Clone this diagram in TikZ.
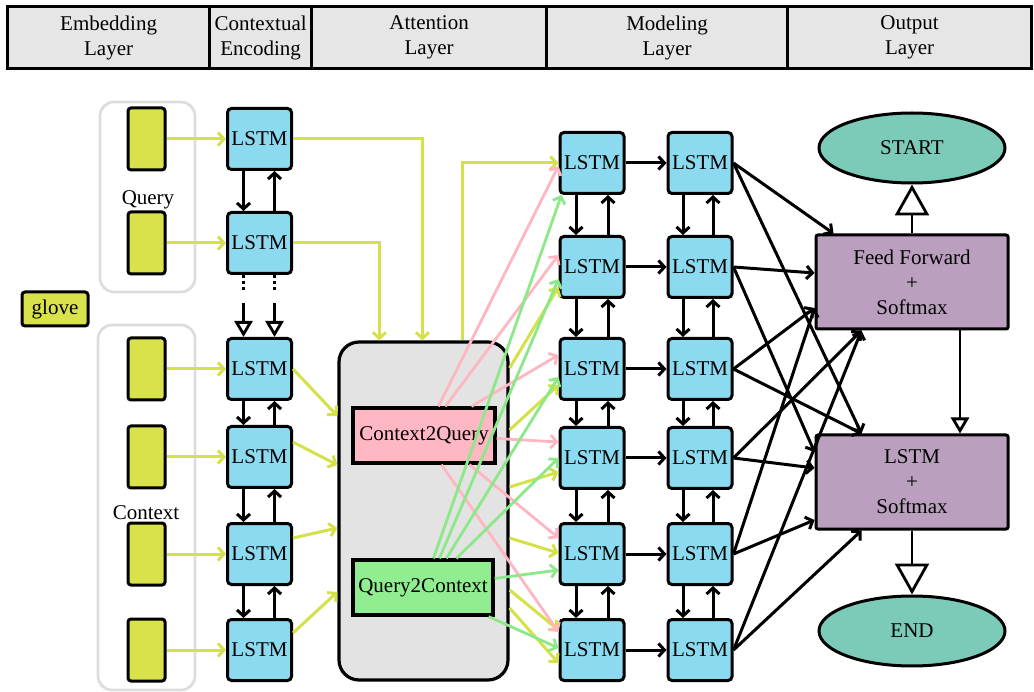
\documentclass[tikz,border=0pt]{standalone}
\usepackage{fontspec}
\setmainfont{Liberation Serif}
\usetikzlibrary{arrows.meta,shapes.geometric,calc}
\definecolor{hdrgray}{RGB}{230,230,230}
\definecolor{embyel}{RGB}{217,226,74}
\definecolor{lstmblue}{RGB}{140,218,240}
\definecolor{grpgray}{RGB}{221,221,221}
\definecolor{attgray}{RGB}{227,227,227}
\definecolor{cqpink}{RGB}{255,183,195}
\definecolor{qcgreen}{RGB}{144,238,144}
\definecolor{outteal}{RGB}{124,203,185}
\definecolor{outpurple}{RGB}{186,160,190}
\definecolor{flowyel}{RGB}{212,225,72}
\definecolor{flowpink}{RGB}{255,182,193}
\definecolor{flowgreen}{RGB}{140,232,136}
\begin{document}
\begin{tikzpicture}[x=1pt,y=-1pt,
  font=\fontsize{21}{25}\selectfont,
  hdr/.style={draw,line width=3.2pt,fill=hdrgray,minimum height=62,align=center,inner sep=0pt,anchor=north west},
  emb/.style={draw,line width=3pt,fill=embyel,rounded corners=3pt,minimum width=37,minimum height=62,inner sep=0pt},
  grp/.style={draw=grpgray,line width=2.8pt,rounded corners=14pt,inner sep=0pt},
  lstm/.style={draw,line width=3pt,fill=lstmblue,rounded corners=4pt,minimum width=64,minimum height=61,inner sep=0pt},
  attbox/.style={draw,line width=3.2pt,fill=attgray,rounded corners=20pt,minimum width=169,minimum height=338,inner sep=0pt},
  cqbox/.style={draw,line width=3.2pt,fill=cqpink,minimum width=142,minimum height=55,inner sep=0pt},
  qcbox/.style={draw,line width=3.2pt,fill=qcgreen,minimum width=140,minimum height=55,inner sep=0pt},
  outbox/.style={draw,line width=3pt,fill=outpurple,rounded corners=2pt,minimum width=192,minimum height=94,align=center,inner sep=0pt},
  endpt/.style={draw,line width=3pt,fill=outteal,ellipse,minimum width=186,minimum height=70,inner sep=0pt},
  blk/.style={line width=3pt,-{Straight Barb[length=6pt,width=13pt]}},
  yel/.style={draw=flowyel,line width=3pt,-{Straight Barb[length=6pt,width=13pt]}},
  pnk/.style={draw=flowpink,line width=2.8pt,-{Straight Barb[length=6pt,width=13pt]}},
  grn/.style={draw=flowgreen,line width=2.8pt,-{Straight Barb[length=6pt,width=13pt]}},
  tri/.style={line width=2.8pt,-{Triangle[open,fill=white,length=16pt,width=18pt]}},
  bigtri/.style={line width=2.8pt,-{Triangle[open,fill=white,length=31pt,width=34pt]}},
  dots/.style={line width=2.8pt,dash pattern=on 3pt off 3pt}]
\useasboundingbox (0,0) rectangle (1034,692);

% header row
\node[hdr,minimum width=202] (h1) at (6,5) {Embedding\\Layer};
\node[hdr,minimum width=102] (h2) at (208,5) {Contextual\\Encoding};
\node[hdr,minimum width=235] (h3) at (310,5) {Attention\\Layer};
\node[hdr,minimum width=241] (h4) at (545,5) {Modeling\\Layer};
\node[hdr,minimum width=244] (h5) at (786,5) {Output\\Layer};

% embedding groups
\node[grp,minimum width=95,minimum height=190] (qg) at (147.5,197) {};
\node[grp,minimum width=97,minimum height=365] (cg) at (146.5,507.5) {};
\node (qlab) at (148,200) {Query};
\node (clab) at (146,513) {Context};
\node[emb,minimum width=66,minimum height=34] (glove) at (55,309) {glove};
\foreach \n/\y in {q1/139,q2/243,c1/369,c2/457,c3/554,c4/650}
  \node[emb] (\n) at (146.5,\y) {};

% contextual encoding LSTMs
\foreach \n/\y in {e1/139,e2/243,e3/369,e4/457,e5/554,e6/650}
  \node[lstm] (\n) at (259.5,\y) {LSTM};
\foreach \a/\b in {q1/e1,q2/e2,c1/e3,c2/e4,c3/e5,c4/e6}
  \draw[yel] (\a.east) -- (\b.west);
\foreach \a/\b in {e1/e2,e3/e4,e4/e5,e5/e6}{
  \draw[blk] ([xshift=-16pt]\a.south) -- ([xshift=-16pt]\b.north);
  \draw[blk] ([xshift=15pt]\b.north) -- ([xshift=15pt]\a.south);
}
\coordinate (dl) at ($(e2.south)+(-16,15)$);
\coordinate (dr) at ($(e2.south)+(15,15)$);
\coordinate (tl) at ($(e3.north)+(-16,-34)$);
\coordinate (tr) at ($(e3.north)+(15,-34)$);
\draw[dots] ([xshift=-16pt]e2.south) -- (dl);
\draw[dots] ([xshift=15pt]e2.south) -- (dr);
\draw[tri] (tl) -- ([xshift=-16pt]e3.north);
\draw[tri] (tr) -- ([xshift=15pt]e3.north);

% attention layer
\node[attbox] (att) at (423.5,511) {};
\node[cqbox] (cq) at (424,435.5) {Context2Query};
\node[qcbox] (qc) at (423,587.5) {Query2Context};
\draw[yel] (e1.east) -| ($(att.north west)+(85,0)$);
\draw[yel] (e2.east) -| ($(att.north west)+(42,0)$);
\draw[yel] (e3.east) -- ($(att.west)+(0,-95)$);
\draw[yel] ($(e4.east)+(0,-15)$) -- ($(att.west)+(0,-46)$);
\draw[yel] ($(e5.east)+(0,-16)$) -- ($(att.west)+(0,17)$);
\draw[yel] ($(e6.east)+(0,-17)$) -- ($(att.west)+(0,81)$);

% modeling layer LSTMs
\foreach \i/\y in {1/163,2/267,3/369,4/458,5/554,6/650}{
  \node[lstm] (ma\i) at (592,\y) {LSTM};
  \node[lstm] (mb\i) at (700,\y) {LSTM};
  \draw[blk] (ma\i.east) -- (mb\i.west);
}
\foreach \a/\b in {1/2,2/3,3/4,4/5,5/6}{
  \draw[blk] ([xshift=-16pt]ma\a.south) -- ([xshift=-16pt]ma\b.north);
  \draw[blk] ([xshift=16pt]ma\b.north) -- ([xshift=16pt]ma\a.south);
  \draw[blk] ([xshift=-17pt]mb\a.south) -- ([xshift=-17pt]mb\b.north);
  \draw[blk] ([xshift=13pt]mb\b.north) -- ([xshift=13pt]mb\a.south);
}

% attention outputs into the modeling layer
\draw[yel] ($(att.north west)+(125,0)$) |- (ma1.west);
\draw[yel] ($(att.east)+(0,-143)$) -- ($(ma2.west)+(0,20)$);
\draw[yel] ($(att.east)+(0,-81)$) -- ($(ma3.west)+(0,16)$);
\draw[yel] ($(att.east)+(0,-24)$) -- ($(ma4.west)+(0,14)$);
\draw[yel] ($(att.east)+(0,27)$) -- ($(ma5.west)+(0,-1)$);
\draw[yel] ($(att.east)+(0,79)$) -- ($(ma6.west)+(0,-20)$);
\draw[yel] ($(att.east)+(0,97)$) -- ($(ma6.west)+(0,13)$);

\draw[pnk] ($(cq.north west)+(87,0)$) -- ($(ma1.west)+(0,3)$);
\draw[pnk] ($(cq.north west)+(94,0)$) -- ($(ma2.west)+(0,-12)$);
\draw[pnk] ($(cq.north west)+(120,0)$) -- ($(ma3.west)+(0,-14)$);
\draw[pnk] ($(cq.east)+(0,3)$) -- ($(ma4.west)+(0,-16)$);
\draw[pnk] ($(cq.south west)+(118,0)$) -- ($(ma5.west)+(0,-16)$);
\draw[pnk] ($(cq.south west)+(90,0)$) -- ($(ma6.west)+(0,-18)$);

\draw[grn] ($(qc.north west)+(82,0)$) -- ($(ma1.south west)+(3,0)$);
\draw[grn] ($(qc.north west)+(88,0)$) -- ($(ma2.west)+(0,12)$);
\draw[grn] ($(qc.north west)+(95,0)$) -- ($(ma3.west)+(0,8)$);
\draw[grn] ($(qc.north west)+(105,0)$) -- (ma4.west);
\draw[grn] ($(qc.east)+(0,-9)$) -- ($(ma5.west)+(0,16)$);
\draw[grn] ($(qc.south east)+(-6,0)$) -- ($(ma6.west)+(0,-2)$);

% output layer
\node[endpt] (start) at (912,148) {START};
\node[outbox] (ff) at (912,282) {Feed Forward\\+\\Softmax};
\node[outbox] (lo) at (912,482) {LSTM\\+\\Softmax};
\node[endpt] (end) at (912,631) {END};
\draw[bigtri] (ff.north) -- (start.south);
\draw[tri] ($(ff.south)+(48,0)$) -- ($(lo.north)+(48,0)$);
\draw[bigtri] (lo.south) -- (end.north);

\draw[blk] (mb1.east) -- ($(ff.north west)+(19,0)$);
\draw[blk] (mb1.east) -- ($(lo.north west)+(47,0)$);
\draw[blk] (mb2.east) -- ($(ff.west)+(0,-9)$);
\draw[blk] (mb2.east) -- ($(lo.west)+(0,-30)$);
\draw[blk] (mb3.east) -- ($(ff.west)+(0,26)$);
\draw[blk] (mb3.east) -- ($(lo.north west)+(47,0)$);
\draw[blk] (mb4.east) -- ($(ff.south west)+(47,0)$);
\draw[blk] (mb4.east) -- ($(lo.west)+(0,-14)$);
\draw[blk] (mb5.east) -- ($(ff.west)+(0,26)$);
\draw[blk] (mb5.east) -- ($(lo.west)+(0,38)$);
\draw[blk] (mb6.east) -- ($(ff.south west)+(47,0)$);
\draw[blk] (mb6.east) -- ($(lo.south west)+(47,0)$);
\end{tikzpicture}
\end{document}
